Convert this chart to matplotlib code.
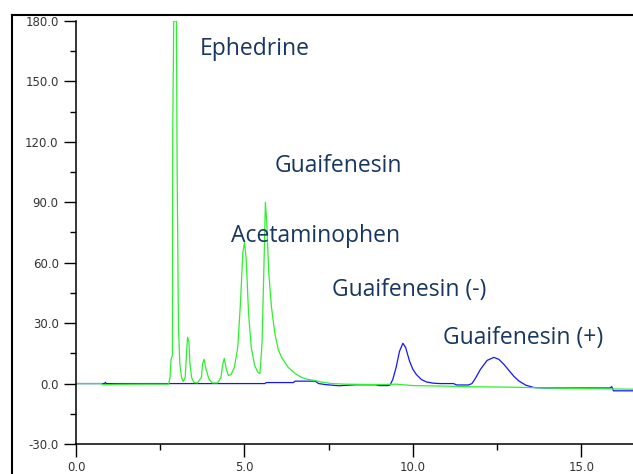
import matplotlib.pyplot as plt
from matplotlib.lines import Line2D
from matplotlib.ticker import MultipleLocator, FormatStrFormatter

# --- data (time [min], signal) ---
green_t = [0.0, 0.75, 0.8, 1.2, 2.0, 2.75, 2.79, 2.82, 2.86, 2.87, 2.9, 2.98, 3.0,
           3.04, 3.08, 3.13, 3.18, 3.24, 3.28, 3.31, 3.35, 3.38, 3.43, 3.5, 3.6,
           3.72, 3.76, 3.8, 3.86, 3.95, 4.05, 4.2, 4.3, 4.36, 4.4, 4.45, 4.52,
           4.6, 4.7, 4.8, 4.88, 4.95, 5.0, 5.05, 5.12, 5.2, 5.3, 5.4, 5.46,
           5.52, 5.58, 5.62, 5.66, 5.72, 5.8, 5.9, 6.0, 6.1, 6.3, 6.5, 6.7,
           6.9, 7.1, 7.3, 7.6, 8.0, 9.0, 9.5, 10.0, 11.0, 11.8, 13.0, 14.0,
           15.0, 16.6]
green_y = [0, 0, -0.6, -0.4, -0.3, -0.3, 3, 12, 14, 125, 180, 180, 108,
           28, 10, 3, 1, 3, 15, 23, 21, 10, 3, 0.5, 0.3,
           3, 10, 12, 7, 2, 0.3, 0.3, 3, 10, 12.5, 8, 4,
           4.5, 8, 18, 40, 65, 70, 62, 35, 18, 9, 5.5, 5,
           20, 60, 90, 80, 55, 38, 25, 17, 13, 8, 5, 3,
           2, 1.5, 0.7, 0, -0.3, -0.5, -0.3, -1, -1.3, -1.6, -1.8, -2.2,
           -2.5, -2.8]

blue_t = [0.0, 0.85, 0.87, 0.9, 5.6, 5.65, 6.45, 6.5, 7.1, 7.2, 7.4, 7.8, 8.3,
          8.9, 9.0, 9.25, 9.32, 9.4, 9.5, 9.6, 9.7, 9.78, 9.9, 10.0, 10.1,
          10.25, 10.4, 10.6, 10.8, 11.2, 11.3, 11.65, 11.75, 11.85, 12.0,
          12.2, 12.4, 12.55, 12.7, 12.85, 13.0, 13.15, 13.35, 13.6, 14.0,
          15.0, 15.85, 15.9, 15.95, 16.6]
blue_y = [0, 0, 0.6, 0, 0, 0.5, 0.5, 1.2, 1.2, 0, -0.5, -1.1, -0.6,
          -0.6, -1, -1, -0.7, 2, 8, 16, 20, 18, 11, 7, 4.5,
          2, 0.8, 0.2, 0, 0, -0.7, -0.7, 0, 2.5, 7,
          11.5, 13, 12, 9.5, 6.5, 3.5, 1.2, -0.8, -2, -2.2,
          -2.2, -2.2, -1.5, -3.6, -3.6]

peak_names = ["Ephedrine", "Guaifenesin", "Acetaminophen",
              "Guaifenesin (-)", "Guaifenesin (+)"]

fig = plt.figure(figsize=(6.33, 4.74), dpi=100)
ax = fig.add_axes([0.1201, 0.0633, 0.8799, 0.8924])

ax.plot(blue_t, blue_y, color="#1414ff", lw=0.9)
ax.plot(green_t, green_y, color="#2ef02e", lw=0.9)

ax.set_xlim(0, 16.53)
ax.set_ylim(-30, 180)

ax.xaxis.set_major_locator(MultipleLocator(5))
ax.xaxis.set_minor_locator(MultipleLocator(2.5))
ax.yaxis.set_major_locator(MultipleLocator(30))
ax.yaxis.set_minor_locator(MultipleLocator(15))
ax.xaxis.set_major_formatter(FormatStrFormatter("%.1f"))
ax.yaxis.set_major_formatter(FormatStrFormatter("%.1f"))

for s in ["top", "right"]:
    ax.spines[s].set_visible(False)
for s in ["left", "bottom"]:
    ax.spines[s].set_linewidth(1.1)

ax.tick_params(which="major", direction="out", length=9, width=1, labelsize=8.5,
               labelcolor="#333333")
ax.tick_params(which="minor", direction="out", length=4.5, width=1)
ax.tick_params(axis="y", which="major", pad=3.5)
ax.tick_params(axis="x", which="major", pad=3)

# peak labels
txt = dict(color="#17375e", fontsize=16.5, family="Open Sans", va="center", ha="left")
ax.text(3.68, 166, peak_names[0], **txt)
ax.text(5.9, 108, peak_names[1], **txt)
ax.text(4.6, 73.5, peak_names[2], **txt)
ax.text(7.6, 46.7, peak_names[3], **txt)
ax.text(10.89, 22.4, peak_names[4], **txt)

# screenshot frame
fig.add_artist(Line2D([12 / 633, 1], [1 - 15 / 474, 1 - 15 / 474], color="black", lw=1.5))
fig.add_artist(Line2D([12 / 633, 12 / 633], [0, 1 - 15 / 474], color="black", lw=1.5))

fig.savefig("out.png", dpi=100)
